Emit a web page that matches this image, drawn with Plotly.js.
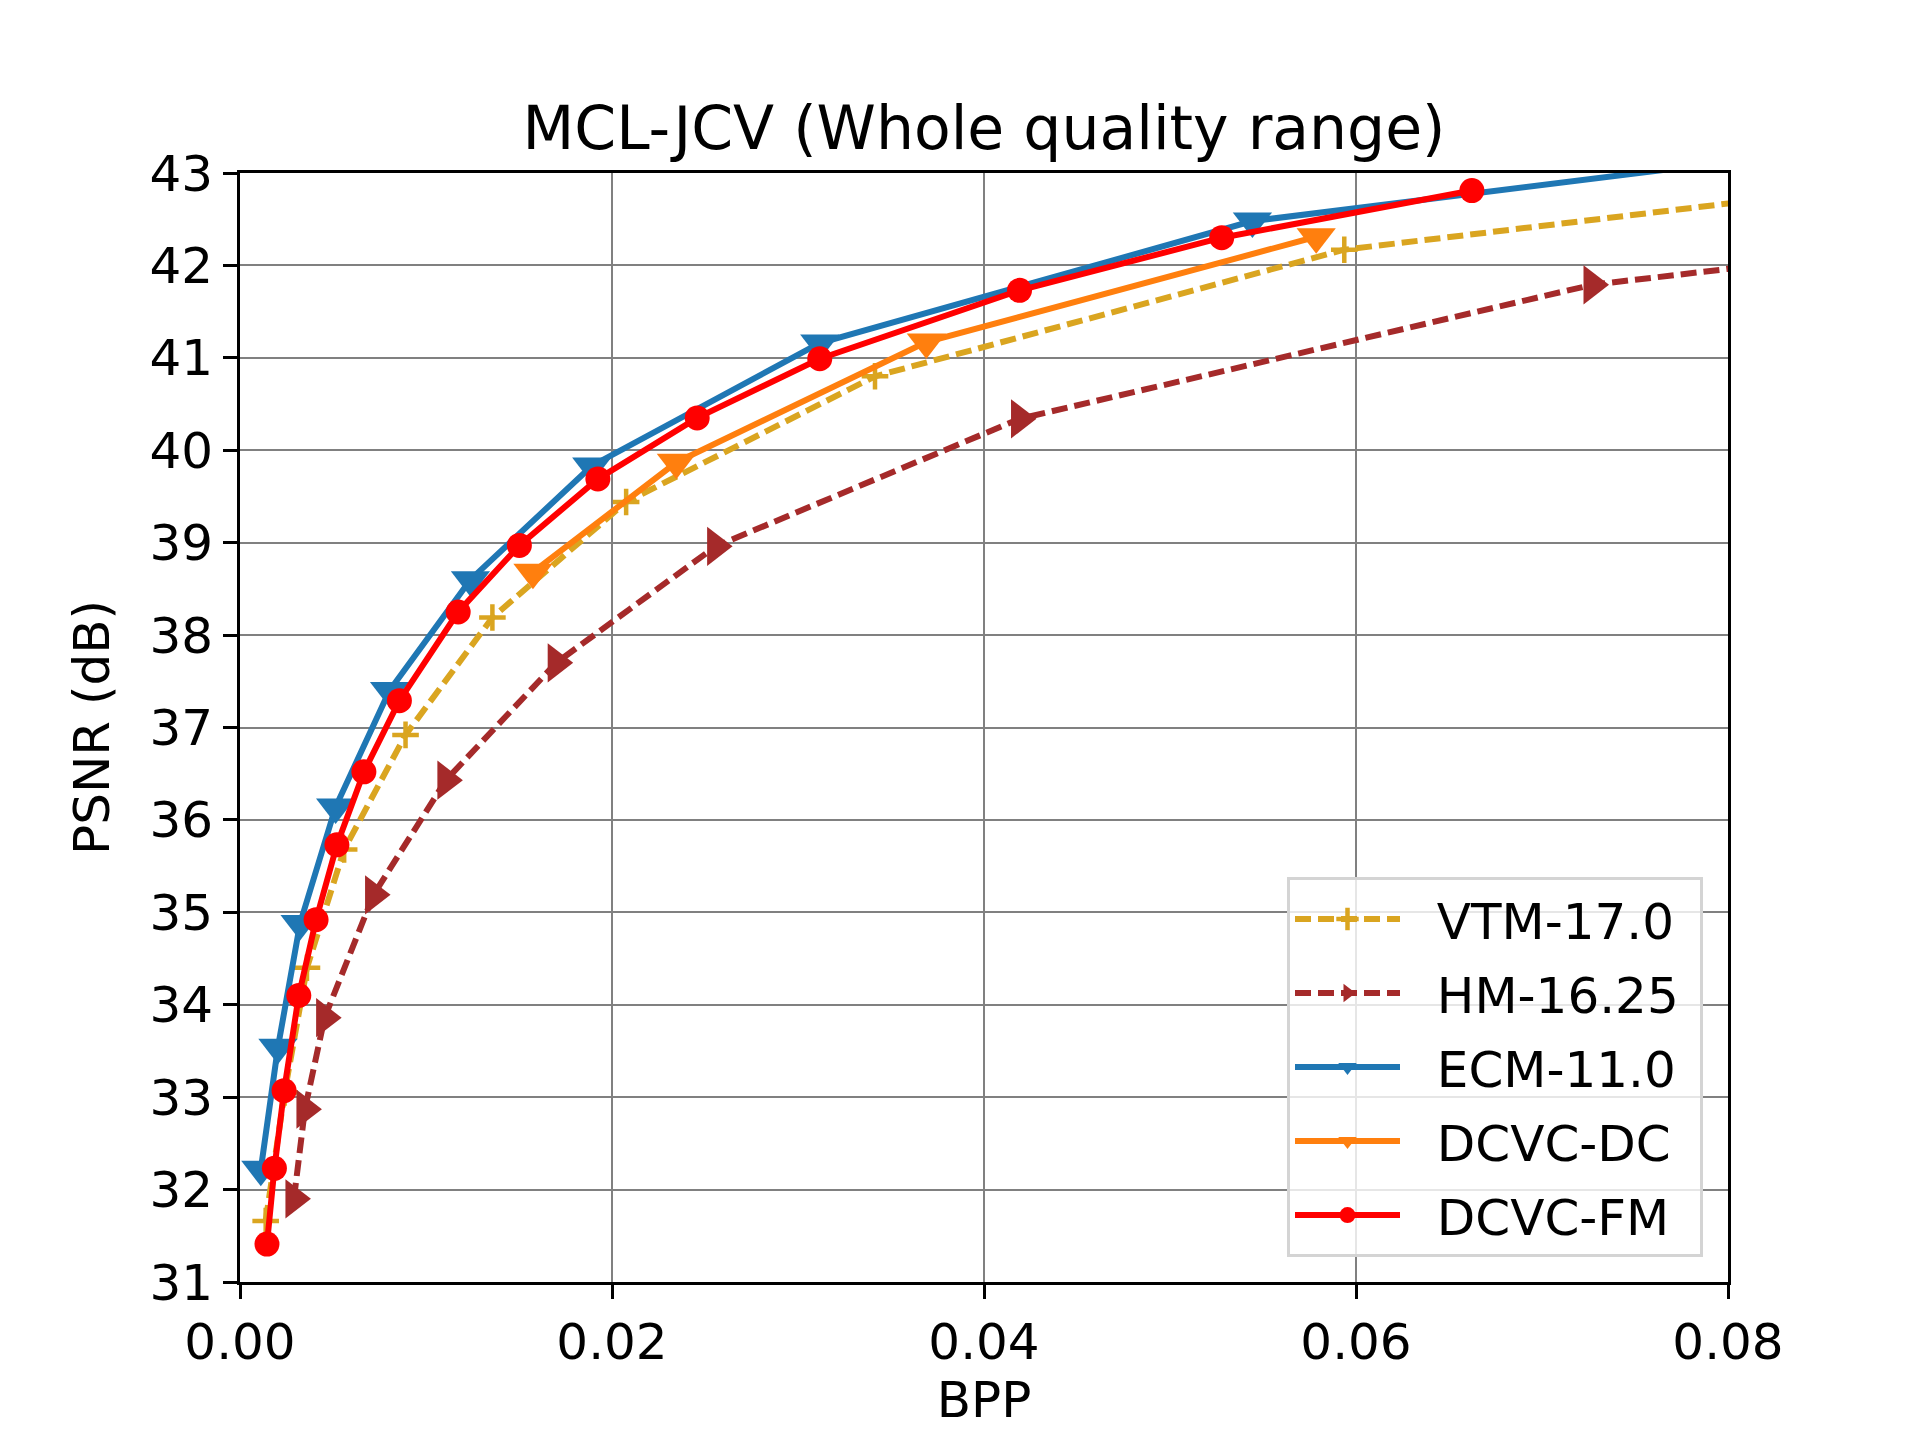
<!DOCTYPE html>
<html>
<head>
<meta charset="utf-8">
<script src="https://cdn.plot.ly/plotly-3.0.1.min.js"></script>
<style>
  html, body { margin: 0; padding: 0; background: #ffffff; }
  #chart { width: 1920px; height: 1440px; }
</style>
</head>
<body>
<div id="chart"></div>
<script>
// ---- data ----
const seriesNames = ["VTM-17.0", "HM-16.25", "ECM-11.0", "DCVC-DC", "DCVC-FM"];

const vtmBpp  = [0.00138, 0.0024, 0.0036, 0.0056, 0.0089, 0.01357, 0.02076, 0.03414, 0.05937, 0.092];
const vtmPsnr = [31.66, 33.05, 34.40, 35.68, 36.92, 38.19, 39.44, 40.80, 42.17, 42.96];

const hmBpp  = [0.0029, 0.00349, 0.00455, 0.00718, 0.01107, 0.0170, 0.02557, 0.04191, 0.07269, 0.110];
const hmPsnr = [31.90, 32.87, 33.86, 35.19, 36.43, 37.70, 38.96, 40.34, 41.79, 42.67];

const ecmBpp  = [0.00112, 0.00204, 0.00323, 0.00514, 0.00804, 0.01239, 0.01891, 0.03117, 0.05443, 0.088];
const ecmPsnr = [32.22, 33.54, 34.88, 36.14, 37.40, 38.60, 39.83, 41.16, 42.48, 43.32];

const dcBpp  = [0.01575, 0.02346, 0.03690, 0.05786];
const dcPsnr = [38.68, 39.87, 41.17, 42.31];

const fmBpp  = [0.00145, 0.00185, 0.00237, 0.00316, 0.00409, 0.00521, 0.00666, 0.00857, 0.01173, 0.01502, 0.01924, 0.02458, 0.03117, 0.04191, 0.05278, 0.06623];
const fmPsnr = [31.41, 32.23, 33.07, 34.10, 34.92, 35.73, 36.52, 37.29, 38.25, 38.97, 39.69, 40.35, 40.99, 41.73, 42.30, 42.81];

const xTicks = [0.00, 0.02, 0.04, 0.06, 0.08];
const yTicks = [31, 32, 33, 34, 35, 36, 37, 38, 39, 40, 41, 42, 43];

const titleText = "MCL-JCV (Whole quality range)";
const xTitle = "BPP";
const yTitle = "PSNR (dB)";

// ---- styling ----
const FONT = "DejaVu Sans, Liberation Sans, sans-serif";
const LW = 6;
const DASH = "16px,7px";
const NB = "\u00A0";

function mk(name, x, y, color, dash, symbol, size, extraMarker) {
  return {
    type: "scatter",
    mode: "lines+markers",
    name: NB + NB + name + NB,
    legendgroup: name,
    x: x, y: y,
    line: { color: color, width: LW, dash: dash },
    marker: Object.assign({ color: color, symbol: symbol, size: size }, extraMarker || {})
  };
}

const traces = [
  mk(seriesNames[0], vtmBpp, vtmPsnr, "#DAA520", DASH, "cross-thin", 19, { line: { color: "#DAA520", width: 4.5 } }),
  mk(seriesNames[1], hmBpp, hmPsnr, "#A52A2A", DASH, "triangle-right", 34),
  mk(seriesNames[2], ecmBpp, ecmPsnr, "#1f77b4", "solid", "triangle-down", 34),
  mk(seriesNames[3], dcBpp, dcPsnr, "#ff7f0e", "solid", "triangle-down", 34),
  mk(seriesNames[4], fmBpp, fmPsnr, "#ff0000", "solid", "circle", 25)
];

const axisCommon = {
  showline: true, linecolor: "#000000", linewidth: 3, mirror: true,
  ticks: "outside", ticklen: 14, tickwidth: 3, tickcolor: "#000000",
  showgrid: true, gridcolor: "#808080", gridwidth: 2,
  zeroline: false,
  tickfont: { family: FONT, size: 50, color: "#000000" }
};

const layout = {
  width: 1920, height: 1440,
  paper_bgcolor: "#ffffff", plot_bgcolor: "#ffffff",
  margin: { l: 240, r: 192, t: 173, b: 158, pad: 0 },
  font: { family: FONT, color: "#000000" },
  title: {
    text: titleText,
    font: { family: FONT, size: 60, color: "#000000" },
    x: 0.5, xref: "paper", xanchor: "center",
    y: 1 - 128 / 1440, yref: "container", yanchor: "middle"
  },
  xaxis: Object.assign({}, axisCommon, {
    range: [0, 0.08],
    tickvals: xTicks,
    ticktext: xTicks.map(v => v.toFixed(2)),
    title: { text: xTitle, font: { family: FONT, size: 50, color: "#000000" }, standoff: 10 }
  }),
  yaxis: Object.assign({}, axisCommon, {
    range: [31, 43],
    tickvals: yTicks,
    ticktext: yTicks.map(v => String(v)),
    title: { text: yTitle, font: { family: FONT, size: 50, color: "#000000" }, standoff: 24 }
  }),
  showlegend: true,
  legend: {
    x: 0.9832, xanchor: "right", xref: "paper",
    y: 0.0225, yanchor: "bottom", yref: "paper",
    bgcolor: "rgba(255,255,255,0.8)",
    bordercolor: "#d4d4d4", borderwidth: 3,
    font: { family: FONT, size: 50, color: "#000000" },
    itemwidth: 105,
    tracegroupgap: 6,
    traceorder: "grouped"
  }
};

Plotly.newPlot("chart", traces, layout, { staticPlot: true, displayModeBar: false });
</script>
</body>
</html>
